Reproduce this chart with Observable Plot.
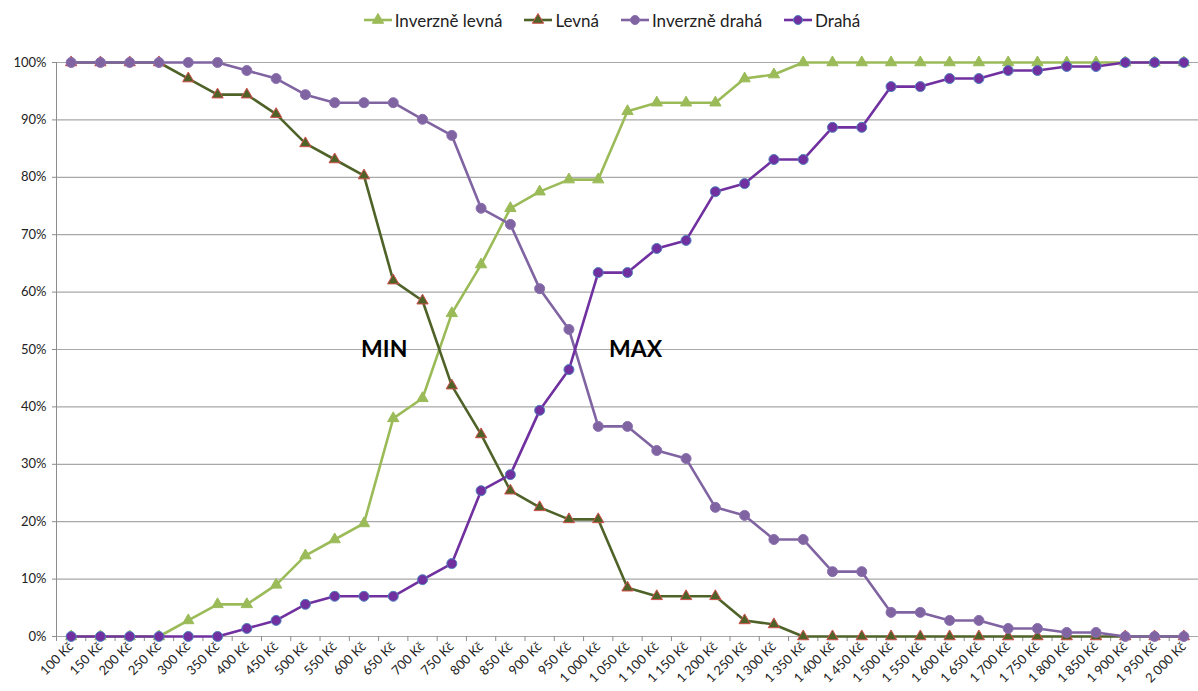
<!DOCTYPE html>
<html>
<head>
<meta charset="utf-8">
<script src="https://cdn.jsdelivr.net/npm/d3@7"></script>
<script src="https://cdn.jsdelivr.net/npm/@observablehq/plot@0.6"></script>
<style>
  body { margin: 0; background: #fff; font-family: Lato, "Open Sans", sans-serif; }
  #legend { height: 40px; display: flex; align-items: center; justify-content: center; padding-left: 24px; box-sizing: border-box; font-size: 17px; color: #222; }
  .item { display: flex; align-items: center; margin: 0 10px; }
  .item svg { margin-right: 1px; }
  #chart svg { display: block; }
</style>
</head>
<body>
<div id="legend"></div>
<div id="chart"></div>
<script>
// Price categories (x axis)
const prices = [
  "100 Kč", "150 Kč", "200 Kč", "250 Kč", "300 Kč", "350 Kč", "400 Kč", "450 Kč",
  "500 Kč", "550 Kč", "600 Kč", "650 Kč", "700 Kč", "750 Kč", "800 Kč", "850 Kč",
  "900 Kč", "950 Kč", "1 000 Kč", "1 050 Kč", "1 100 Kč", "1 150 Kč", "1 200 Kč",
  "1 250 Kč", "1 300 Kč", "1 350 Kč", "1 400 Kč", "1 450 Kč", "1 500 Kč", "1 550 Kč",
  "1 600 Kč", "1 650 Kč", "1 700 Kč", "1 750 Kč", "1 800 Kč", "1 850 Kč", "1 900 Kč",
  "1 950 Kč", "2 000 Kč"
];

// Share of respondents (%) per price
const inverzneLevna = [
  0, 0, 0, 0, 2.8, 5.6, 5.6, 9.0, 14.1, 16.9, 19.7, 38.0, 41.5, 56.3, 64.8, 74.6,
  77.5, 79.6, 79.6, 91.5, 93.0, 93.0, 93.0, 97.2, 97.9, 100, 100, 100, 100, 100,
  100, 100, 100, 100, 100, 100, 100, 100, 100
];
const levna = [
  100, 100, 100, 100, 97.2, 94.4, 94.4, 91.0, 85.9, 83.1, 80.3, 62.0, 58.5, 43.7, 35.2, 25.4,
  22.5, 20.4, 20.4, 8.5, 7.0, 7.0, 7.0, 2.8, 2.1, 0, 0, 0, 0, 0,
  0, 0, 0, 0, 0, 0, 0, 0, 0
];
const inverzneDraha = [
  100, 100, 100, 100, 100, 100, 98.6, 97.2, 94.4, 93.0, 93.0, 93.0, 90.1, 87.3, 74.6, 71.8,
  60.6, 53.5, 36.6, 36.6, 32.4, 31.0, 22.5, 21.1, 16.9, 16.9, 11.3, 11.3, 4.2, 4.2,
  2.8, 2.8, 1.4, 1.4, 0.7, 0.7, 0, 0, 0
];
const draha = [
  0, 0, 0, 0, 0, 0, 1.4, 2.8, 5.6, 7.0, 7.0, 7.0, 9.9, 12.7, 25.4, 28.2,
  39.4, 46.5, 63.4, 63.4, 67.6, 69.0, 77.5, 78.9, 83.1, 83.1, 88.7, 88.7, 95.8, 95.8,
  97.2, 97.2, 98.6, 98.6, 99.3, 99.3, 100, 100, 100
];

const yTicks = [0, 10, 20, 30, 40, 50, 60, 70, 80, 90, 100];

const series = [
  {name: "Inverzně levná", values: inverzneLevna, line: "#9BBB59", fill: "#9BBB59", stroke: "#9BBB59", symbol: "triangle", r: 4.2},
  {name: "Levná", values: levna, line: "#4F6228", fill: "#4F6228", stroke: "#D0504D", symbol: "triangle", r: 4.2},
  {name: "Inverzně drahá", values: inverzneDraha, line: "#8064A2", fill: "#8064A2", stroke: "#8A70B0", symbol: "circle", r: 5},
  {name: "Drahá", values: draha, line: "#7030A0", fill: "#7030A0", stroke: "#4F81BD", symbol: "circle", r: 5}
];

const width = 1198, marginLeft = 56, marginRight = 0;
const step = (width - marginLeft - marginRight) / prices.length;

const seriesMarks = series.flatMap(s => {
  const data = prices.map((p, i) => ({price: p, value: s.values[i]}));
  return [
    Plot.line(data, {x: "price", y: "value", stroke: s.line, strokeWidth: 2.6}),
    Plot.dot(data, {x: "price", y: "value", symbol: s.symbol, r: s.r, fill: s.fill, stroke: s.stroke, strokeWidth: 1})
  ];
});

const labelStyle = {fontSize: 23, fontWeight: "bold", fill: "#000"};

const chart = Plot.plot({
  width,
  height: 651,
  marginLeft,
  marginRight,
  marginTop: 22,
  marginBottom: 55,
  style: {fontFamily: "Lato, 'Open Sans', sans-serif", fontSize: "13px", color: "#222", background: "#fff"},
  x: {type: "band", domain: prices, padding: 0, round: false, label: null},
  y: {domain: [0, 100], label: null},
  marks: [
    Plot.gridY({ticks: yTicks, stroke: "#a8a8a8", strokeOpacity: 1, strokeWidth: 1.2}),
    Plot.axisY({ticks: yTicks, tickFormat: d => d + "%", tickSize: 4, tickPadding: 6, stroke: "#8c8c8c", fill: "#222", fontSize: 13}),
    Plot.axisX({tickSize: 5, tickFormat: () => "", dx: -step / 2, stroke: "#8c8c8c"}),
    Plot.axisX({tickSize: 0, tickRotate: -45, tickPadding: 8, fill: "#222", fontSize: 13}),
    Plot.frame({anchor: "left", stroke: "#8c8c8c"}),
    ...seriesMarks,
    Plot.text(["MIN"], {x: () => "650 Kč", y: () => 50, text: d => d, dx: -9, ...labelStyle}),
    Plot.text(["MAX"], {x: () => "1 050 Kč", y: () => 50, text: d => d, dx: 8, ...labelStyle})
  ]
});
document.getElementById("chart").appendChild(chart);

// Legend
const legend = document.getElementById("legend");
for (const s of series) {
  const item = document.createElement("div");
  item.className = "item";
  const marker = s.symbol === "circle"
    ? `<circle cx="16" cy="8" r="4.5" fill="${s.fill}" stroke="${s.stroke}" stroke-width="1"/>`
    : `<path d="${d3.symbol(d3.symbolTriangle, Math.PI * 4.2 * 4.2)()}" transform="translate(16,8)" fill="${s.fill}" stroke="${s.stroke}" stroke-width="1"/>`;
  item.innerHTML = `<svg width="32" height="16"><line x1="2" x2="30" y1="8" y2="8" stroke="${s.line}" stroke-width="2.6"/>${marker}</svg><span>${s.name}</span>`;
  legend.appendChild(item);
}
</script>
</body>
</html>
